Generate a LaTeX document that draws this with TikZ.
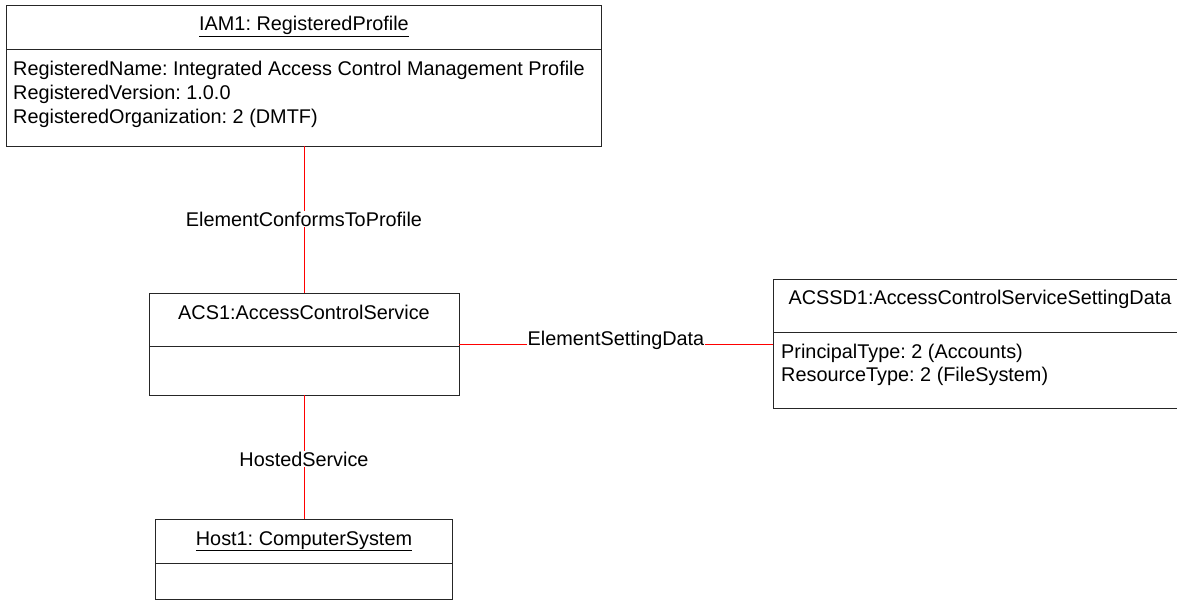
\documentclass[tikz,border=0pt]{standalone}
\usepackage{fontspec}
\setmainfont{Liberation Sans}
\frenchspacing
\begin{document}
\begin{tikzpicture}[x=1pt,y=-1pt,
  box/.style={draw=black!85,line width=0.9pt},
  link/.style={draw=red,line width=0.7pt},
  txt/.style={font=\fontsize{19.85}{24}\selectfont,inner sep=0pt,anchor=base},
  lbl/.style={txt,fill=white,inner xsep=1pt,inner ysep=1pt},
  attr/.style={txt,anchor=base west}]
\useasboundingbox (0,0) rectangle (1177,602);
% IAM1 registered profile
\draw[box] (6,5) rectangle (601,146);
\draw[box] (6,49) -- (601,49);
\node[txt] (iamT) at (304,31) {\underline{IAM1: RegisteredProfile}};
\node[attr] (iamA1) at (13,75) {RegisteredName: Integrated Access Control Management Profile};
\node[attr] (iamA2) at (13,99) {RegisteredVersion: 1.0.0};
\node[attr] (iamA3) at (13,123) {RegisteredOrganization: 2 (DMTF)};
\coordinate (iamB) at (304,146);

% ACS1 access control service
\draw[box] (149,293) rectangle (459,395);
\draw[box] (149,346) -- (459,346);
\node[txt] (acsT) at (304,319) {ACS1:AccessControlService};
\coordinate (acsTop) at (304,293);
\coordinate (acsBot) at (304,395);
\coordinate (acsR) at (459,344);

% ACSSD1 setting data (runs off the right edge)
\draw[box] (1178,279) -- (773,279) -- (773,408) -- (1178,408);
\draw[box] (773,332) -- (1177,332);
\node[txt] (sdT) at (980,304) {ACSSD1:AccessControlServiceSettingData};
\node[attr] (sdA1) at (781,358) {PrincipalType: 2 (Accounts)};
\node[attr] (sdA2) at (781,381) {ResourceType: 2 (FileSystem)};
\coordinate (sdL) at (773,344);

% Host1 computer system
\draw[box] (155,519) rectangle (452,599);
\draw[box] (155,563) -- (452,563);
\node[txt] (hostT) at (304,545) {\underline{Host1: ComputerSystem}};
\coordinate (hostTop) at (304,519);

% associations
\draw[link] (iamB) -- (acsTop);
\node[lbl] (ectp) at (304,226) {ElementConformsToProfile};
\draw[link] (acsR) -- (sdL);
\node[lbl] (esd) at (616,345) {ElementSettingData};
\draw[link] (acsBot) -- (hostTop);
\node[lbl] (hs) at (304,466) {HostedService};
\end{tikzpicture}
\end{document}
